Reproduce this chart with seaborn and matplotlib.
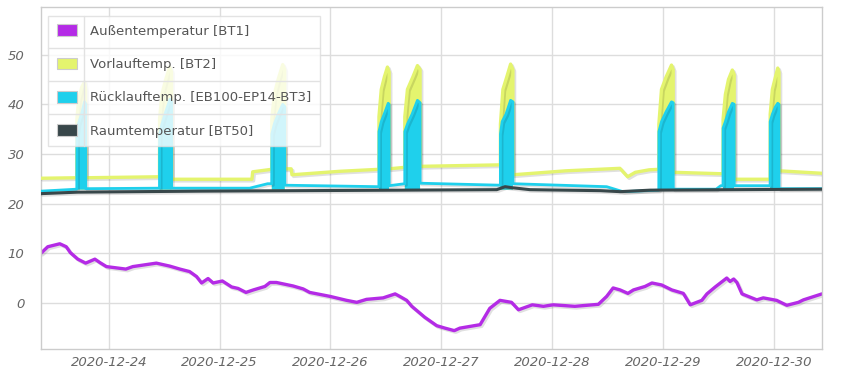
import matplotlib
matplotlib.use("Agg")
import numpy as np
import pandas as pd
import matplotlib.pyplot as plt
import matplotlib.patheffects as pe
import matplotlib.dates as mdates
from matplotlib.patches import Patch
from matplotlib.lines import Line2D
import seaborn as sns

# --- data ---
# Außentemperatur [BT1]
bt1_time = ["12-23 09:20", "12-23 10:48", "12-23 13:24", "12-23 14:48", "12-23 15:42", "12-23 17:18",
            "12-23 19:00", "12-23 21:00", "12-23 22:06", "12-23 23:30", "12-24 03:42", "12-24 05:12",
            "12-24 10:18", "12-24 13:12", "12-24 15:24", "12-24 17:30", "12-24 19:00", "12-24 20:06",
            "12-24 21:30", "12-24 22:36", "12-25 00:36", "12-25 02:36", "12-25 04:00", "12-25 05:42",
            "12-25 07:18", "12-25 09:48", "12-25 10:54", "12-25 12:18", "12-25 15:54", "12-25 18:06",
            "12-25 19:30", "12-25 23:54", "12-26 03:30", "12-26 05:42", "12-26 07:48", "12-26 11:24",
            "12-26 14:00", "12-26 15:00", "12-26 16:30", "12-26 17:36", "12-26 20:24", "12-26 23:00",
            "12-27 00:48", "12-27 02:48", "12-27 04:00", "12-27 08:24", "12-27 10:30", "12-27 12:42",
            "12-27 15:12", "12-27 16:42", "12-27 19:42", "12-27 22:06", "12-28 00:12", "12-28 04:54",
            "12-28 10:00", "12-28 11:48", "12-28 13:12", "12-28 14:42", "12-28 16:24", "12-28 17:36",
            "12-28 20:06", "12-28 21:36", "12-28 23:42", "12-29 01:54", "12-29 04:24", "12-29 05:54",
            "12-29 08:24", "12-29 09:30", "12-29 11:18", "12-29 13:48", "12-29 14:30", "12-29 15:18",
            "12-29 16:00", "12-29 17:06", "12-29 20:18", "12-29 21:42", "12-30 00:36", "12-30 02:48",
            "12-30 05:18", "12-30 06:24", "12-30 10:24"]
bt1_temp = [10.0, 11.3, 11.9, 11.3, 10.1, 8.8, 8.0, 8.8, 8.1, 7.3, 6.8, 7.3,
            8.0, 7.4, 6.8, 6.3, 5.3, 4.0, 4.9, 4.0, 4.4, 3.2, 2.9, 2.1,
            2.6, 3.3, 4.1, 4.1, 3.4, 2.8, 2.1, 1.3, 0.5, 0.1, 0.7, 1.0,
            1.8, 1.3, 0.5, -0.7, -2.9, -4.6, -5.1, -5.6, -5.1, -4.4, -1.1, 0.5,
            0.1, -1.4, -0.4, -0.7, -0.4, -0.7, -0.3, 1.3, 3.0, 2.6, 1.9, 2.6,
            3.3, 4.0, 3.6, 2.6, 1.9, -0.4, 0.5, 1.8, 3.2, 5.0, 4.3, 4.8,
            4.1, 1.8, 0.6, 1.0, 0.5, -0.5, 0.1, 0.6, 1.8]

# Vorlauftemp. [BT2]
bt2_time = ["12-23 09:20", "12-23 17:05", "12-23 17:06", "12-23 17:30", "12-23 18:10", "12-23 18:45",
            "12-23 19:00", "12-23 19:01", "12-24 10:59", "12-24 11:00", "12-24 11:30", "12-24 12:20",
            "12-24 13:10", "12-24 13:36", "12-24 13:37", "12-25 07:00", "12-25 07:10", "12-25 11:17",
            "12-25 11:18", "12-25 11:50", "12-25 12:40", "12-25 13:40", "12-25 14:06", "12-25 14:07",
            "12-25 15:30", "12-25 15:40", "12-26 02:00", "12-26 10:29", "12-26 10:30", "12-26 11:00",
            "12-26 11:40", "12-26 12:20", "12-26 12:42", "12-26 12:43", "12-26 16:05", "12-26 16:06",
            "12-26 16:40", "12-26 17:50", "12-26 18:50", "12-26 19:24", "12-26 19:25", "12-27 12:47",
            "12-27 12:48", "12-27 13:20", "12-27 14:10", "12-27 15:00", "12-27 15:30", "12-27 15:31",
            "12-28 03:00", "12-28 14:40", "12-28 16:20", "12-28 18:00", "12-28 21:00", "12-28 23:05",
            "12-28 23:06", "12-28 23:40", "12-29 00:40", "12-29 01:50", "12-29 02:12", "12-29 02:13",
            "12-29 12:59", "12-29 13:00", "12-29 13:30", "12-29 14:10", "12-29 15:00", "12-29 15:24",
            "12-29 15:25", "12-29 23:11", "12-29 23:12", "12-29 23:40", "12-30 00:20", "12-30 00:50",
            "12-30 01:06", "12-30 01:07", "12-30 10:25"]
bt2_temp = [25.1, 25.2, 37.0, 41.0, 43.5, 44.5,
            43.0, 25.2, 25.4, 37.0, 42.0, 45.0,
            47.5, 46.5, 24.9, 24.9, 26.4, 26.9,
            37.0, 42.0, 45.0, 48.0, 47.0, 27.0,
            27.0, 25.8, 26.5, 26.9, 37.5, 43.0,
            45.5, 47.5, 46.5, 27.0, 27.3, 37.5,
            43.0, 45.5, 47.8, 47.0, 27.5, 27.8,
            36.0, 43.0, 45.5, 48.1, 47.0, 25.8,
            26.6, 27.1, 25.4, 26.3, 26.8, 26.9,
            36.0, 43.0, 45.5, 47.9, 47.0, 26.3,
            26.0, 37.0, 42.0, 45.0, 46.9, 46.0,
            24.9, 24.9, 38.0, 43.0, 45.5, 47.3,
            46.5, 26.6, 26.1]

# Rücklauftemp. [EB100-EP14-BT3]
bt3_time = ["12-23 09:20", "12-23 17:05", "12-23 17:06", "12-23 17:24", "12-23 18:06", "12-23 18:45",
            "12-23 19:00", "12-23 19:01", "12-24 10:59", "12-24 11:00", "12-24 11:30", "12-24 12:20",
            "12-24 13:15", "12-24 13:36", "12-24 13:37", "12-25 06:30", "12-25 10:24", "12-25 11:17",
            "12-25 11:18", "12-25 11:50", "12-25 12:40", "12-25 13:40", "12-25 14:06", "12-25 14:07",
            "12-26 10:29", "12-26 10:30", "12-26 11:00", "12-26 11:50", "12-26 12:30", "12-26 12:42",
            "12-26 12:43", "12-26 16:05", "12-26 16:06", "12-26 16:40", "12-26 17:40", "12-26 18:50",
            "12-26 19:24", "12-26 19:25", "12-27 12:47", "12-27 12:48", "12-27 13:10", "12-27 14:00",
            "12-27 15:00", "12-27 15:30", "12-27 15:31", "12-28 11:48", "12-28 15:18", "12-28 23:05",
            "12-28 23:06", "12-28 23:40", "12-29 00:40", "12-29 01:50", "12-29 02:12", "12-29 02:13",
            "12-29 11:30", "12-29 12:30", "12-29 12:59", "12-29 13:00", "12-29 13:30", "12-29 14:10",
            "12-29 15:00", "12-29 15:24", "12-29 15:25", "12-29 23:11", "12-29 23:12", "12-29 23:40",
            "12-30 00:20", "12-30 00:50", "12-30 01:06", "12-30 01:07", "12-30 10:25"]
bt3_temp = [22.5, 22.9, 34.0, 36.0, 38.0, 40.5,
            40.0, 23.0, 23.1, 34.0, 36.0, 38.5,
            41.0, 40.5, 23.1, 23.1, 24.0, 24.0,
            34.0, 36.0, 38.0, 40.0, 39.5, 23.7,
            23.4, 34.5, 36.5, 38.5, 40.2, 40.0,
            23.6, 24.0, 34.5, 36.0, 38.0, 40.8,
            40.3, 24.1, 23.7, 34.0, 36.5, 38.0,
            40.8, 40.5, 24.0, 23.4, 22.4, 22.7,
            34.5, 36.5, 38.5, 40.5, 40.3, 22.9,
            22.9, 23.6, 23.6, 35.2, 36.5, 38.5,
            40.2, 40.0, 23.6, 23.6, 36.5, 38.0,
            39.5, 40.2, 40.0, 23.0, 23.0]

# Raumtemperatur [BT50]
bt50_time = ["12-23 09:20", "12-23 17:18", "12-24 19:42", "12-26 15:00", "12-27 12:00", "12-27 13:48",
             "12-27 15:18", "12-27 19:12", "12-28 10:24", "12-28 14:42", "12-28 21:12", "12-30 10:25"]
bt50_temp = [22.0, 22.3, 22.5, 22.7, 22.8, 23.4, 23.2, 22.8, 22.6, 22.4, 22.7, 22.9]

labels = ["Außentemperatur [BT1]", "Vorlauftemp. [BT2]",
          "Rücklauftemp. [EB100-EP14-BT3]", "Raumtemperatur [BT50]"]
colors = ["#b42be6", "#e4f46e", "#1fd0ec", "#38474a"]
day_ticks = ["2020-12-24", "2020-12-25", "2020-12-26", "2020-12-27",
             "2020-12-28", "2020-12-29", "2020-12-30"]


def to_dt(ts):
    return pd.to_datetime(["2020-" + t for t in ts])


series = [(to_dt(bt1_time), np.array(bt1_temp)),
          (to_dt(bt2_time), np.array(bt2_temp)),
          (to_dt(bt3_time), np.array(bt3_temp)),
          (to_dt(bt50_time), np.array(bt50_temp))]

sns.set_style("white")
plt.rcParams["font.family"] = ["DejaVu Sans"]

fig = plt.figure(figsize=(8.5, 3.75), dpi=100)
ax = fig.add_axes([41 / 850, 26 / 375, 781 / 850, 342 / 375])

shadow = [pe.SimpleLineShadow(offset=(1.2, -1.2), shadow_color="k", alpha=0.12), pe.Normal()]
widths = [2.4, 2.4, 2.0, 2.2]
for i, ((t, v), c) in enumerate(zip(series, colors)):
    z = 2 + i
    # heating bursts are drawn as solid blocks
    if i in (1, 2):
        ax.fill_between(t, 22.8, v, where=v > 30, color=c, lw=0, zorder=z)
    sns.lineplot(x=t, y=v, ax=ax, color=c, lw=widths[i], estimator=None,
                 path_effects=shadow, zorder=z)

ax.set_xlim(pd.Timestamp("2020-12-23 09:20"), pd.Timestamp("2020-12-30 10:25"))
ax.set_ylim(-9.3, 59.6)
ax.set_yticks([0, 10, 20, 30, 40, 50])
ax.set_xticks(pd.to_datetime(day_ticks))
ax.xaxis.set_major_formatter(mdates.DateFormatter("%Y-%m-%d"))
ax.set_xlabel("")
ax.set_ylabel("")
ax.grid(True, color="#dddddd", lw=1)
ax.set_axisbelow(True)
for s in ax.spines.values():
    s.set_color("#cccccc")
    s.set_linewidth(1)
ax.tick_params(length=0, labelsize=9.5, labelcolor="#666666")
ax.tick_params(axis="y", pad=12)
ax.tick_params(axis="x", pad=5)
for lab in ax.get_xticklabels() + ax.get_yticklabels():
    lab.set_fontstyle("italic")

handles = [Patch(facecolor=c, edgecolor="#cccccc", lw=0.8) for c in colors]
leg = ax.legend(handles, labels, loc="upper left", bbox_to_anchor=(0.009, 0.974),
                fontsize=9.5, frameon=True, fancybox=False, framealpha=0.8,
                edgecolor="#dddddd", handlelength=1.55, handleheight=1.0,
                handletextpad=1.0, labelspacing=1.5, borderpad=0.65, borderaxespad=0)
leg.set_zorder(10)
for txt in leg.get_texts():
    txt.set_color("#555555")

# table-like separators inside the legend
fig.canvas.draw()
r = fig.canvas.get_renderer()
fb = leg.get_frame().get_window_extent(r)
tb = [txt.get_window_extent(r) for txt in leg.get_texts()]
hb = [h.get_window_extent(r) for h in leg.legend_handles]
inv = fig.transFigure.inverted()
for a, b in zip(tb[:-1], tb[1:]):
    y = (a.y0 + b.y1) / 2
    p0 = inv.transform((fb.x0, y))
    p1 = inv.transform((fb.x1, y))
    fig.add_artist(Line2D([p0[0], p1[0]], [p0[1], p1[1]], color="#e2e2e2", lw=1, zorder=11))
xv = (hb[0].x1 + tb[0].x0) / 2
q0 = inv.transform((xv, fb.y0))
q1 = inv.transform((xv, fb.y1))
fig.add_artist(Line2D([q0[0], q1[0]], [q0[1], q1[1]], color="#e2e2e2", lw=1, zorder=11))

fig.savefig("out.png", dpi=100)
